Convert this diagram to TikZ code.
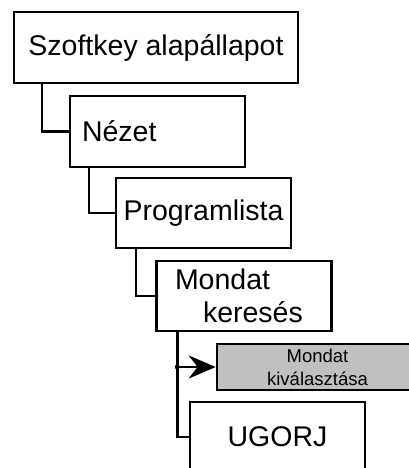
\documentclass[tikz,border=0pt]{standalone}
\usepackage{fontspec}
\setmainfont{Liberation Sans}
\usepackage{tikz}
\usetikzlibrary{positioning, arrows.meta}
\definecolor{keyfill}{RGB}{192,192,192}

\begin{document}
\begin{tikzpicture}[x=1pt, y=-1pt,
  box/.style={draw, line width=2.5pt, rectangle, minimum width=175pt, minimum height=70pt,
    inner sep=0pt, font=\fontsize{28.5}{33}\selectfont},
  smallbox/.style={box, fill=keyfill, minimum height=46pt, font=\fontsize{18.5}{23}\selectfont, align=center},
  link/.style={line width=2.5pt}]
\useasboundingbox (0,0) rectangle (409,468);
\begin{scope}
\clip (0,0) rectangle (409,468);
\node[box, minimum width=284pt, minimum height=71pt] at (156,47.5) (szoft) {Szoftkey alapállapot};
\node[box, minimum height=71pt, text width=151pt, align=left] at (157.5,131.5) (nezet) {Nézet};
\node[box] at (203.5,213) (prog) {Programlista};
\node[box, text width=138pt, align=left] at (244,296) (mondat) {Mondat\\\hspace*{28pt}keresés};
\node[smallbox, minimum width=201pt] at (317.5,367) (kival) {Mondat\\kiválasztása};
\node[box] at (277.5,437) (ugorj) {UGORJ};
\end{scope}
\draw[link] (szoft.south west) ++(29,0) |- (nezet.west);
\draw[link] (nezet.south west) ++(20,0) |- (prog.west);
\draw[link] (prog.south west) ++(21,0) |- (mondat.west);
\path (mondat.south west) ++(22,0) coordinate (mk);
\draw[link] (mk) |- (ugorj.west);
\draw[link, -{Stealth[length=27pt, width=23pt]}] (mk |- kival.west) -- (kival.west);
\fill (mk |- kival.west) circle (2.5pt);
\end{tikzpicture}
\end{document}
